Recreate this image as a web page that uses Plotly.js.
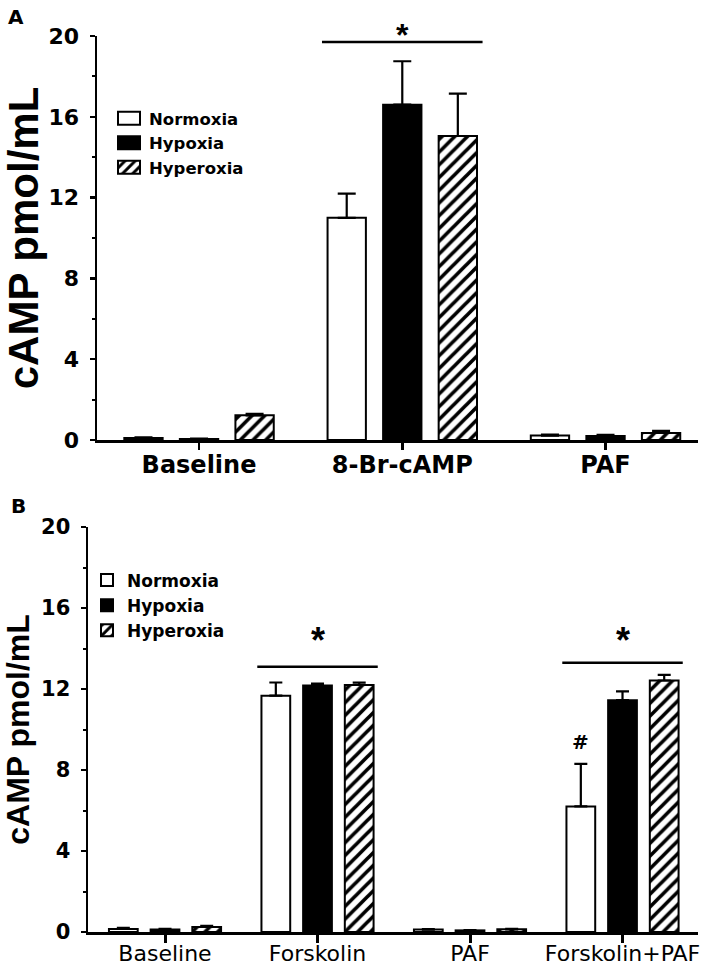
<!DOCTYPE html>
<html>
<head>
<meta charset="utf-8">
<script src="https://cdn.plot.ly/plotly-3.0.1.min.js"></script>
<style>html,body{margin:0;padding:0;background:#fff;}#chart{width:709px;height:968px;}</style>
</head>
<body>
<div id="chart"></div>
<script>
// ---- Panel A data ----
const groupsA = ['Baseline', '8-Br-cAMP', 'PAF'];
const normoxiaA = [0.10, 11.0, 0.22];
const normoxiaErrA = [0.03, 1.2, 0.05];
const hypoxiaA = [0.05, 16.6, 0.20];
const hypoxiaErrA = [0.02, 2.15, 0.05];
const hyperoxiaA = [1.22, 15.05, 0.35];
const hyperoxiaErrA = [0.08, 2.1, 0.10];

// ---- Panel B data ----
const groupsB = ['Baseline', 'Forskolin', 'PAF', 'Forskolin+PAF'];
const normoxiaB = [0.15, 11.67, 0.12, 6.2];
const normoxiaErrB = [0.05, 0.65, 0.02, 2.1];
const hypoxiaB = [0.12, 12.17, 0.08, 11.45];
const hypoxiaErrB = [0.03, 0.10, 0.02, 0.43];
const hyperoxiaB = [0.25, 12.2, 0.13, 12.42];
const hyperoxiaErrB = [0.05, 0.12, 0.03, 0.28];

// significance markers
const sigGroupsA = [1];
const sigLineA = [19.7];
const sigStarA = [20.05];
const sigGroupsB = [1, 3];
const sigLineB = [13.1, 13.3];
const sigStarB = [14.4, 14.4];
const hashGroupB = [3];
const hashLevelB = [9.4];

const seriesNames = ['Normoxia', 'Hypoxia', 'Hyperoxia'];
const FONT = 'Liberation Sans, Arial, sans-serif';
const DFONT = 'DejaVu Sans, sans-serif';
const YMAX = 20;
const BARGAP = 0.18;
const SLOT = (1 - BARGAP) / 3;
const SIG_HALF = 0.395;

function mkBar(name, cats, vals, errs, xa, ya, legendId, errW, kind) {
  const marker = {line: {color: '#000', width: 2}};
  if (kind === 0) { marker.color = '#fff'; }
  else if (kind === 1) { marker.color = '#000'; }
  else { marker.color = '#fff'; marker.pattern = {shape: '/', fgcolor: '#000', bgcolor: '#fff', size: 9, solidity: 0.4}; }
  return {
    type: 'bar', name: name, x: cats, y: vals, xaxis: xa, yaxis: ya, legend: legendId,
    marker: marker,
    error_y: {type: 'data', array: errs, arrayminus: errs.map(() => 0), symmetric: false,
              color: '#000', thickness: 2.2, width: errW},
    hoverinfo: 'none'
  };
}

const data = [
  mkBar(seriesNames[0], groupsA, normoxiaA, normoxiaErrA, 'x', 'y', 'legend', 9, 0),
  mkBar(seriesNames[1], groupsA, hypoxiaA, hypoxiaErrA, 'x', 'y', 'legend', 9, 1),
  mkBar(seriesNames[2], groupsA, hyperoxiaA, hyperoxiaErrA, 'x', 'y', 'legend', 9, 2),
  mkBar(seriesNames[0], groupsB, normoxiaB, normoxiaErrB, 'x2', 'y2', 'legend2', 6.5, 0),
  mkBar(seriesNames[1], groupsB, hypoxiaB, hypoxiaErrB, 'x2', 'y2', 'legend2', 6.5, 1),
  mkBar(seriesNames[2], groupsB, hyperoxiaB, hyperoxiaErrB, 'x2', 'y2', 'legend2', 6.5, 2)
];

const shapes = [];
const annotations = [];
sigGroupsA.forEach((g, i) => {
  shapes.push({type: 'line', xref: 'x', yref: 'y', x0: g - SIG_HALF, x1: g + SIG_HALF, y0: sigLineA[i], y1: sigLineA[i], line: {color: '#000', width: 2.5}});
  annotations.push({xref: 'x', yref: 'y domain', x: g, y: sigStarA[i] / YMAX, text: '*', showarrow: false, font: {family: FONT, size: 32, color: '#000', weight: 'bold'}, yanchor: 'middle'});
});
sigGroupsB.forEach((g, i) => {
  shapes.push({type: 'line', xref: 'x2', yref: 'y2', x0: g - SIG_HALF, x1: g + SIG_HALF, y0: sigLineB[i], y1: sigLineB[i], line: {color: '#000', width: 2.5}});
  annotations.push({xref: 'x2', yref: 'y2', x: g, y: sigStarB[i], text: '*', showarrow: false, font: {family: FONT, size: 36, color: '#000', weight: 'bold'}, yanchor: 'middle'});
});
hashGroupB.forEach((g, i) => {
  annotations.push({xref: 'x2', yref: 'y2', x: g - SLOT, y: hashLevelB[i], text: '#', showarrow: false, font: {family: DFONT, size: 20, color: '#000', weight: 'bold'}, yanchor: 'middle'});
});
annotations.push({xref: 'paper', yref: 'paper', x: 16 / 709, y: 1 - 17 / 968, text: 'A', showarrow: false, xanchor: 'center', yanchor: 'middle', font: {family: DFONT, size: 20, color: '#000', weight: 'bold'}});
annotations.push({xref: 'paper', yref: 'paper', x: 18 / 709, y: 1 - 506 / 968, text: 'B', showarrow: false, xanchor: 'center', yanchor: 'middle', font: {family: DFONT, size: 20, color: '#000', weight: 'bold'}});

function yAxis(domain, tickSize, titleSize, anchor) {
  return {
    domain: domain, anchor: anchor, range: [0, YMAX], tickvals: [0, 4, 8, 12, 16, 20],
    showline: true, linecolor: '#000', linewidth: 2.5, ticks: 'outside', ticklen: 5, tickwidth: 2.5, tickcolor: '#000',
    minor: {dtick: 2, tick0: 0, ticks: 'outside', ticklen: 3, tickwidth: 2, tickcolor: '#000'},
    showgrid: false, zeroline: false, fixedrange: true, ticklabelstandoff: 6,
    tickfont: {family: DFONT, size: tickSize, color: '#000', weight: 'bold'},
    title: {text: 'cAMP pmol/mL', font: {family: FONT, size: titleSize, color: '#000', weight: 'bold'}}
  };
}
function xAxis(domain, range, anchor, tickSize, weight, tlen, twid, standoff) {
  return {
    domain: domain, anchor: anchor, type: 'category', range: range,
    showline: true, linecolor: '#000', linewidth: 2.5, ticks: 'outside', ticklen: tlen, tickwidth: twid, tickcolor: '#000',
    showgrid: false, zeroline: false, fixedrange: true, ticklabelstandoff: standoff,
    tickfont: {family: DFONT, size: tickSize, color: '#000', weight: weight}
  };
}

const layout = {
  width: 709, height: 968,
  margin: {l: 0, r: 0, t: 0, b: 0},
  paper_bgcolor: '#fff', plot_bgcolor: 'rgba(0,0,0,0)',
  barmode: 'group', bargap: BARGAP, bargroupgap: 0.31,
  font: {family: FONT, color: '#000'},
  xaxis: xAxis([97 / 709, 698 / 709], [-0.502, 2.455], 'y', 24, 'bold', 7, 2.5, -5),
  yaxis: yAxis([(968 - 440) / 968, (968 - 36) / 968], 22, 42, 'x'),
  xaxis2: xAxis([88 / 709, 698 / 709], [-0.505, 3.495], 'y2', 22, 'normal', 8, 3, -8),
  yaxis2: yAxis([(968 - 932) / 968, (968 - 527) / 968], 21, 32, 'x2'),
  legend: {x: 109 / 709, y: 1 - 101 / 968, xanchor: 'left', yanchor: 'top', bgcolor: 'rgba(0,0,0,0)', borderwidth: 0,
           font: {family: DFONT, size: 16.5, color: '#000', weight: 'bold'}, tracegroupgap: 0, itemclick: false},
  legend2: {x: 87 / 709, y: 1 - 562.5 / 968, xanchor: 'left', yanchor: 'top', bgcolor: 'rgba(0,0,0,0)', borderwidth: 0,
            font: {family: DFONT, size: 17, color: '#000', weight: 'bold'}, tracegroupgap: 0, itemclick: false},
  shapes: shapes,
  annotations: annotations
};

Plotly.newPlot('chart', data, layout, {displayModeBar: false, staticPlot: true}).then(function (gd) {
  gd.querySelectorAll('.legend .legendpoints path').forEach(function (p) {
    p.setAttribute('d', 'M11,6.5H-11V-6.5H11Z');
  });
});
</script>
</body>
</html>
